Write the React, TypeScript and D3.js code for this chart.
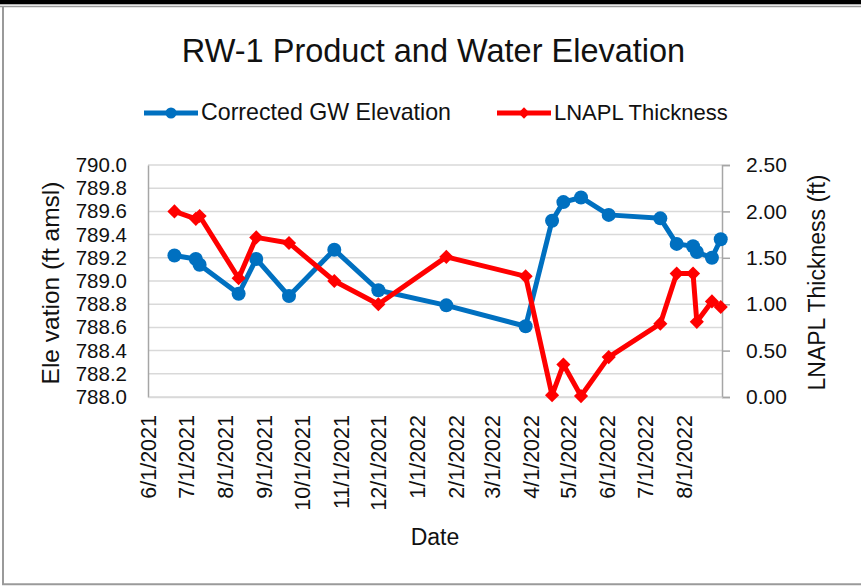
import React, { useEffect, useRef } from "react";
import * as d3 from "d3";

// sampling dates
const sampleDates = [
  "2021-06-22", "2021-07-09", "2021-07-12", "2021-08-12", "2021-08-26",
  "2021-09-21", "2021-10-27", "2021-12-01", "2022-01-24", "2022-03-28",
  "2022-04-18", "2022-04-27", "2022-05-11", "2022-06-02", "2022-07-13",
  "2022-07-26", "2022-08-08", "2022-08-11", "2022-08-23", "2022-08-30",
];
const gwElevation = [
  789.22, 789.19, 789.14, 788.89, 789.19, 788.87, 789.27, 788.92, 788.79, 788.61,
  789.52, 789.68, 789.72, 789.57, 789.54, 789.32, 789.30, 789.25, 789.20, 789.36,
];
const lnaplThickness = [
  2.0, 1.92, 1.95, 1.28, 1.72, 1.66, 1.25, 1.0, 1.51, 1.3,
  0.02, 0.35, 0.01, 0.43, 0.79, 1.33, 1.33, 0.81, 1.03, 0.97,
];
const monthTicks = [
  "2021-06-01", "2021-07-01", "2021-08-01", "2021-09-01", "2021-10-01",
  "2021-11-01", "2021-12-01", "2022-01-01", "2022-02-01", "2022-03-01",
  "2022-04-01", "2022-05-01", "2022-06-01", "2022-07-01", "2022-08-01",
];
const elevationTicks = [788.0, 788.2, 788.4, 788.6, 788.8, 789.0, 789.2, 789.4, 789.6, 789.8, 790.0];
const thicknessTicks = [0, 0.5, 1.0, 1.5, 2.0, 2.5];

const FONT = "'Liberation Sans', Arial, sans-serif";
const BLUE = "#0070C0";
const RED = "#FF0000";

export default function App() {
  const ref = useRef<SVGSVGElement>(null);

  useEffect(() => {
    const svg = d3.select(ref.current);
    svg.selectAll("*").remove();

    const parse = d3.timeParse("%Y-%m-%d");
    const fmt = d3.timeFormat("%-m/%-d/%Y");
    const left = 148, right = 722, top = 165, bottom = 397;

    const x = d3
      .scaleTime()
      .domain([parse("2021-06-01")!, parse("2022-08-31")!])
      .range([left, right]);
    const y = d3.scaleLinear().domain([788, 790]).range([bottom, top]);
    const y2 = d3.scaleLinear().domain([0, 2.5]).range([bottom, top]);

    const gw = sampleDates.map((d, i) => ({ date: parse(d)!, v: gwElevation[i] }));
    const ln = sampleDates.map((d, i) => ({ date: parse(d)!, v: lnaplThickness[i] }));

    // frame
    svg.append("rect").attr("x", 0).attr("y", 0).attr("width", 861).attr("height", 4.3).attr("fill", "#000");
    svg.append("line").attr("x1", 0).attr("x2", 861).attr("y1", 6.5).attr("y2", 6.5).attr("stroke", "#9a9a9a").attr("stroke-width", 1.6);
    svg.append("line").attr("x1", 3).attr("x2", 3).attr("y1", 6).attr("y2", 585).attr("stroke", "#9a9a9a").attr("stroke-width", 2);
    svg.append("line").attr("x1", 2).attr("x2", 861).attr("y1", 584.3).attr("y2", 584.3).attr("stroke", "#9a9a9a").attr("stroke-width", 2);

    // gridlines
    svg
      .append("g")
      .selectAll("line")
      .data(elevationTicks)
      .join("line")
      .attr("x1", left)
      .attr("x2", right)
      .attr("y1", (d) => y(d))
      .attr("y2", (d) => y(d))
      .attr("stroke", "#d9d9d9")
      .attr("stroke-width", 1.5);

    // left axis
    const gl = svg
      .append("g")
      .attr("transform", `translate(${left},0)`)
      .call(d3.axisLeft(y).tickValues(elevationTicks).tickSize(0).tickSizeOuter(0).tickPadding(21).tickFormat(d3.format(".1f")));
    gl.select(".domain").attr("stroke", "#a6a6a6").attr("stroke-width", 1.5);
    gl.selectAll("text").attr("font-family", FONT).attr("font-size", 20.5).attr("fill", "#111");

    // right axis
    const gr = svg
      .append("g")
      .attr("transform", `translate(${right},0)`)
      .call(d3.axisRight(y2).tickValues(thicknessTicks).tickSize(8).tickSizeOuter(8).tickPadding(16).tickFormat(d3.format(".2f")));
    gr.select(".domain").attr("stroke", "#a6a6a6").attr("stroke-width", 1.5);
    gr.selectAll("line").attr("stroke", "#a6a6a6").attr("stroke-width", 1.5);
    gr.selectAll("text").attr("font-family", FONT).attr("font-size", 21).attr("fill", "#111");

    // bottom axis
    const gb = svg
      .append("g")
      .attr("transform", `translate(0,${bottom})`)
      .call(
        d3
          .axisBottom(x)
          .tickValues(monthTicks.map((d) => parse(d)!))
          .tickSize(0)
          .tickSizeOuter(0)
          .tickFormat((d) => fmt(d as Date))
      );
    gb.select(".domain").attr("stroke", "#d9d9d9").attr("stroke-width", 1.5);
    gb.selectAll("text")
      .attr("font-family", FONT)
      .attr("font-size", 21.5)
      .attr("fill", "#111")
      .attr("transform", "rotate(-90)")
      .attr("x", -18)
      .attr("y", 0)
      .attr("dy", "0.35em")
      .attr("text-anchor", "end");

    // series
    const line = d3
      .line<{ date: Date; v: number }>()
      .x((d) => x(d.date));

    svg
      .append("path")
      .datum(gw)
      .attr("fill", "none")
      .attr("stroke", BLUE)
      .attr("stroke-width", 5)
      .attr("stroke-linejoin", "round")
      .attr("d", line.y((d) => y(d.v)));
    svg
      .append("g")
      .selectAll("circle")
      .data(gw)
      .join("circle")
      .attr("cx", (d) => x(d.date))
      .attr("cy", (d) => y(d.v))
      .attr("r", 7)
      .attr("fill", BLUE);

    svg
      .append("path")
      .datum(ln)
      .attr("fill", "none")
      .attr("stroke", RED)
      .attr("stroke-width", 5)
      .attr("stroke-linejoin", "round")
      .attr("d", line.y((d) => y2(d.v)));
    const diamond = d3.symbol(d3.symbolSquare, 100);
    svg
      .append("g")
      .selectAll("path")
      .data(ln)
      .join("path")
      .attr("d", diamond)
      .attr("transform", (d) => `translate(${x(d.date)},${y2(d.v)}) rotate(45)`)
      .attr("fill", RED);

    // titles
    const text = (tx: number, ty: number, s: string, size: number, rot = 0, anchor = "middle") =>
      svg
        .append("text")
        .attr("transform", `translate(${tx},${ty}) rotate(${rot})`)
        .attr("text-anchor", anchor)
        .attr("font-family", FONT)
        .attr("font-size", size)
        .attr("fill", "#111")
        .text(s);

    text(433.5, 62, "RW-1 Product and Water Elevation", 32.5);
    text(59, 283, "Ele vation (ft amsl)", 24.5, -90);
    text(825, 282.5, "LNAPL Thickness (ft)", 23, -90);
    text(435, 545, "Date", 23);

    // legend
    const legend = [
      { label: "Corrected GW Elevation", color: BLUE, x0: 144, kind: "circle" },
      { label: "LNAPL Thickness", color: RED, x0: 497, kind: "diamond" },
    ];
    legend.forEach((l) => {
      const g = svg.append("g");
      g.append("line")
        .attr("x1", l.x0)
        .attr("x2", l.x0 + 54)
        .attr("y1", 113)
        .attr("y2", 113)
        .attr("stroke", l.color)
        .attr("stroke-width", 5);
      if (l.kind === "circle") {
        g.append("circle").attr("cx", l.x0 + 27).attr("cy", 113).attr("r", 5.5).attr("fill", l.color);
      } else {
        g.append("path")
          .attr("d", d3.symbol(d3.symbolSquare, 64)())
          .attr("transform", `translate(${l.x0 + 27},113) rotate(45)`)
          .attr("fill", l.color);
      }
      text(l.x0 + 57, 120, l.label, l.kind === "circle" ? 23.2 : 22, 0, "start");
    });
  }, []);

  return (
    <svg
      ref={ref}
      width={861}
      height={586}
      style={{ position: "absolute", left: 0, top: 0, background: "#fff" }}
    />
  );
}
